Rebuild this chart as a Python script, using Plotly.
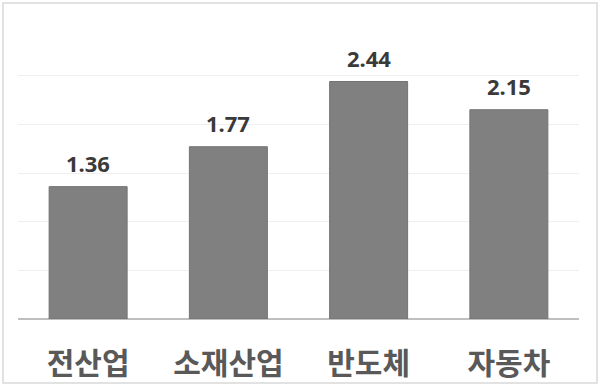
import plotly.graph_objects as go

categories = ["전산업", "소재산업", "반도체", "자동차"]
values = [1.36, 1.77, 2.44, 2.15]
value_labels = ["1.36", "1.77", "2.44", "2.15"]

W, H = 600, 386
ml, mr, mt, mb = 18, 21, 27, 67

fig = go.Figure()
fig.add_trace(go.Bar(
    x=categories, y=values,
    marker=dict(color="#808080", line=dict(color="#737373", width=1)),
    width=0.556,
    hoverinfo="skip",
))

for c, v, t in zip(categories, values, value_labels):
    fig.add_annotation(x=c, y=v, text=t, showarrow=False, yanchor="bottom", yshift=7,
                       font=dict(family="Noto Sans, DejaVu Sans, sans-serif", size=22, color="#3a3a3a",
                                 weight="bold"))

pw = W - ml - mr
ph = H - mt - mb
x0 = (3 - ml) / pw
x1 = (597 - ml) / pw
y0 = (H - mb - 383) / ph
y1 = (H - mb - 3) / ph
fig.add_shape(type="rect", xref="paper", yref="paper", x0=x0, x1=x1, y0=y0, y1=y1,
              line=dict(color="#d9d9d9", width=1.5), fillcolor="rgba(0,0,0,0)", layer="below")

fig.update_layout(
    width=W, height=H,
    margin=dict(l=ml, r=mr, t=mt, b=mb),
    paper_bgcolor="white", plot_bgcolor="white",
    showlegend=False,
    bargap=0.444,
    xaxis=dict(showgrid=False, showline=False, ticks="", automargin=False,
               tickfont=dict(family="Noto Sans CJK KR", size=30, color="#595959", weight="bold"),
               ticklabelstandoff=24),
    yaxis=dict(range=[0, 3], dtick=0.5, showgrid=True, gridcolor="#efefef", gridwidth=1,
               showticklabels=False, zeroline=True, zerolinecolor="#bfbfbf", zerolinewidth=2,
               showline=False, automargin=False),
)

fig.write_html("out.html")
